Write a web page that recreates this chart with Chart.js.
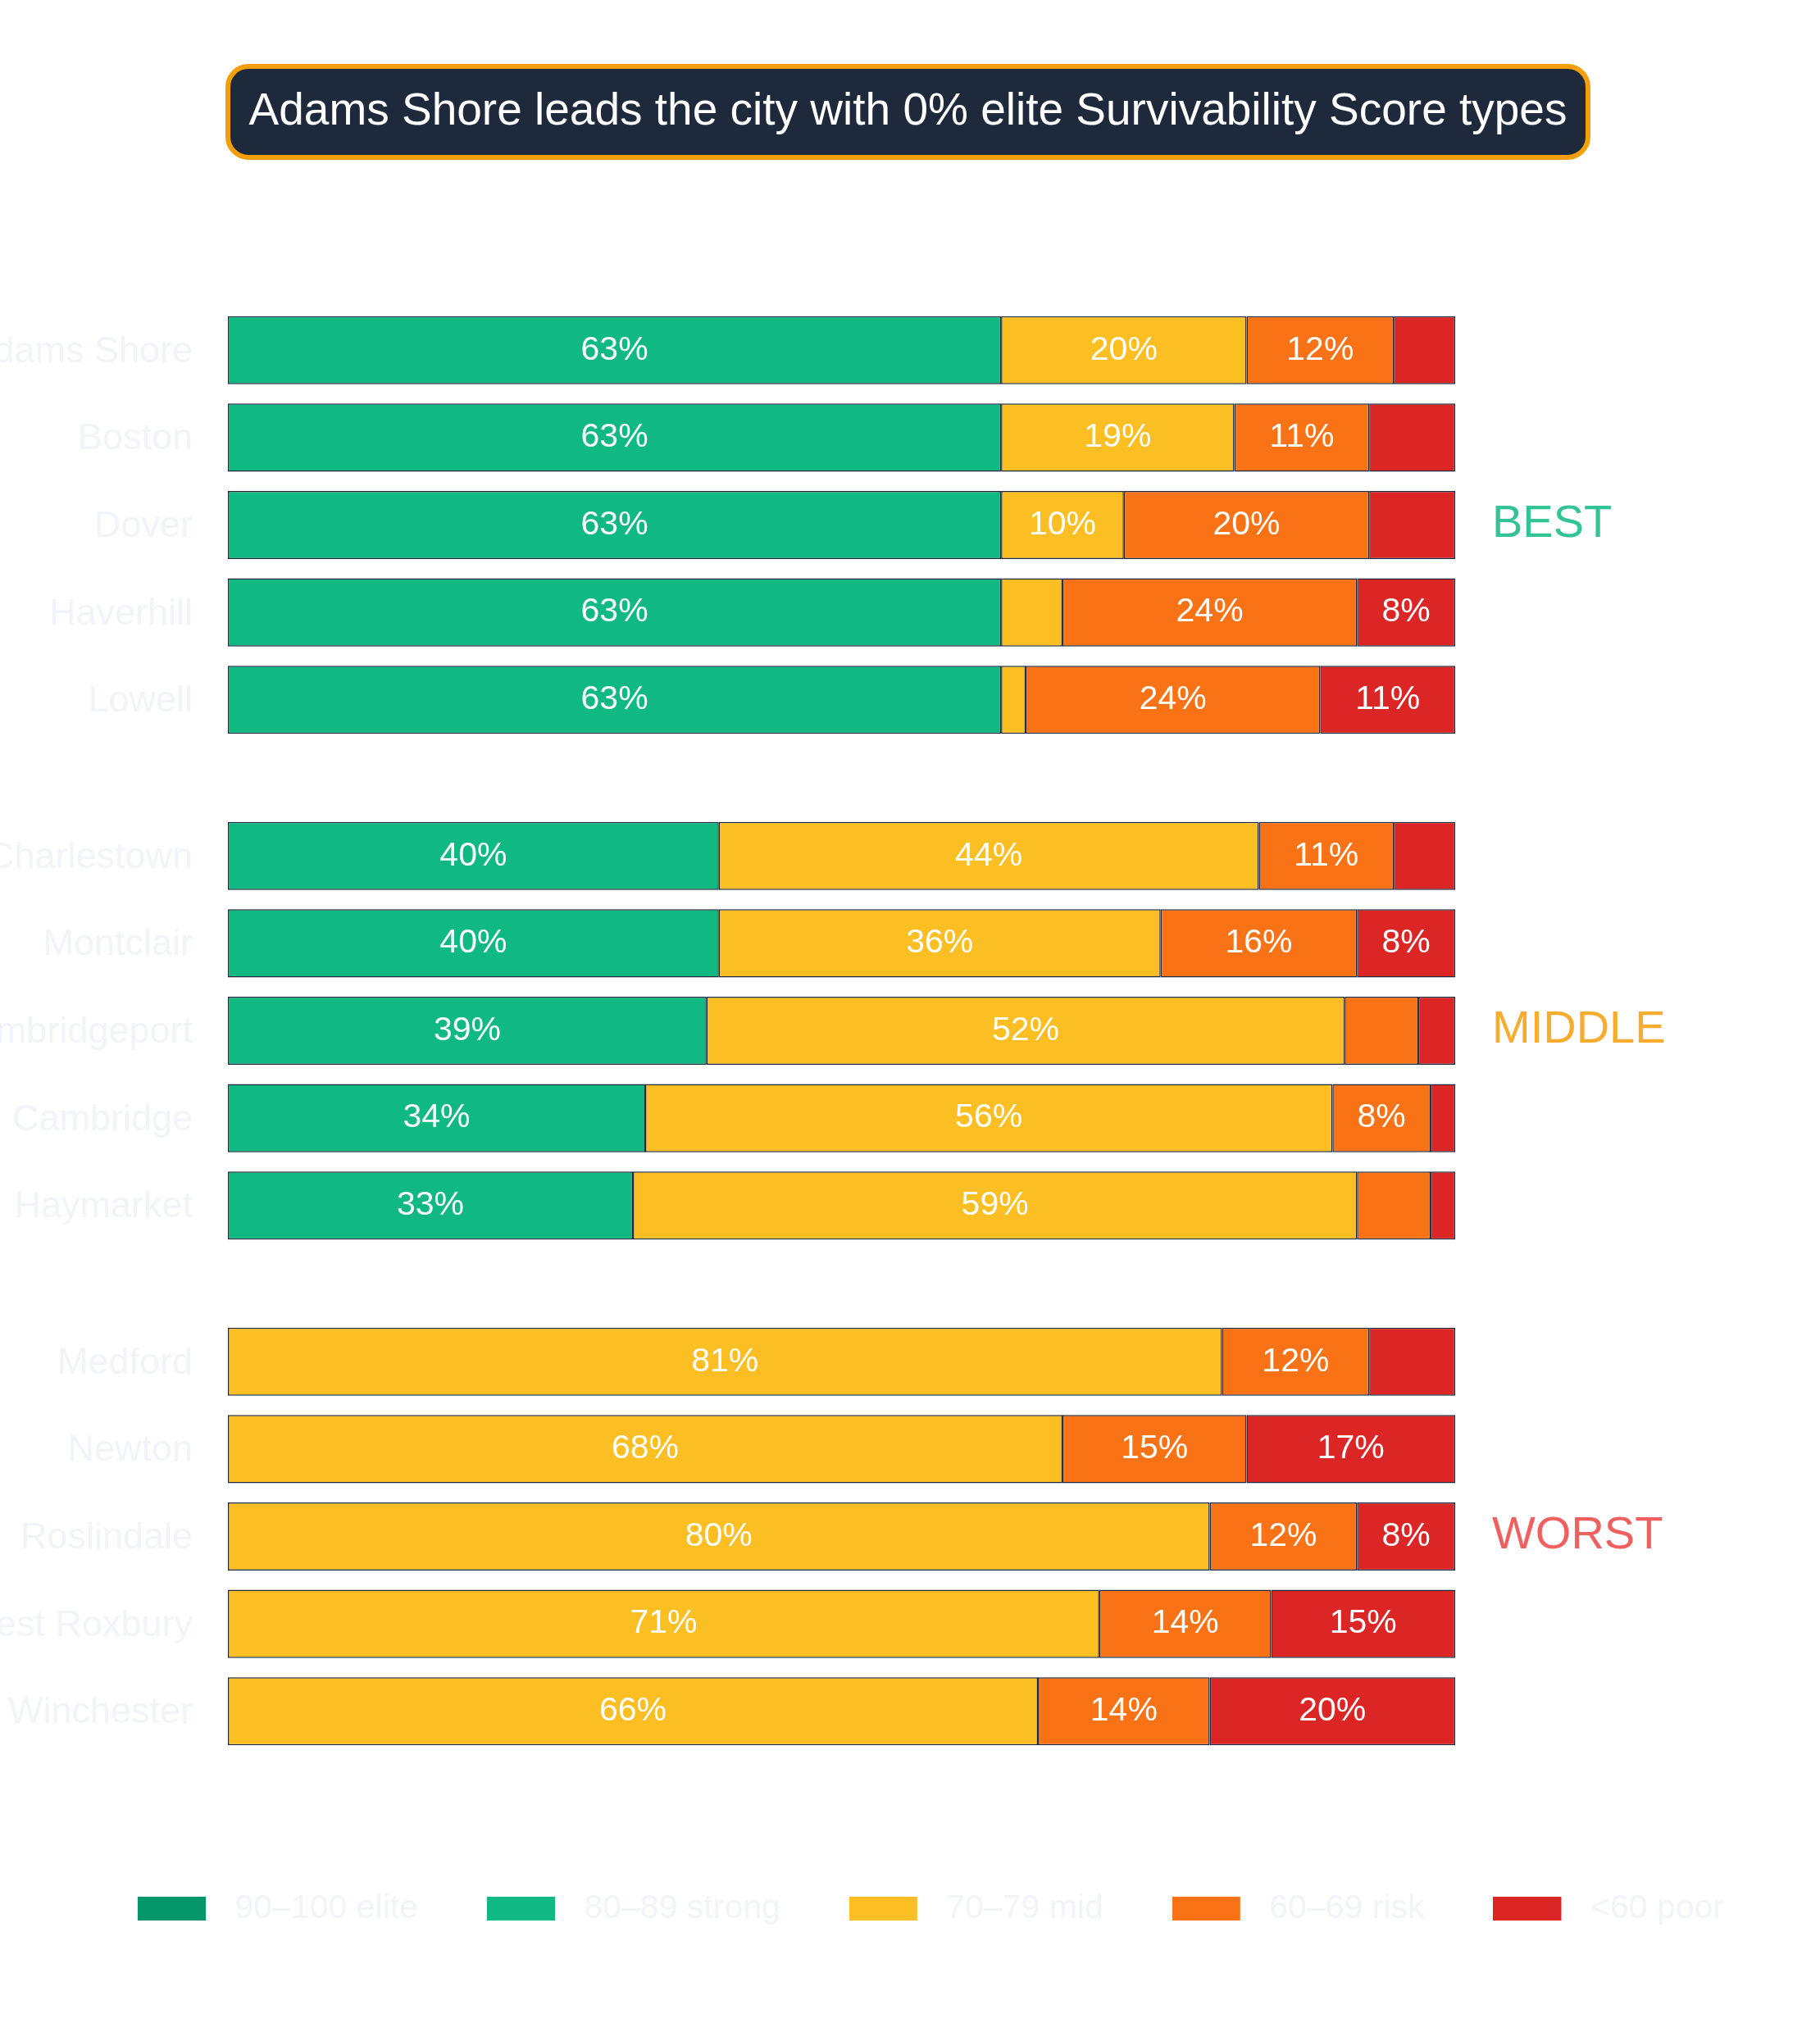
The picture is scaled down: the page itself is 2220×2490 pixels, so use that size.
<!DOCTYPE html>
<html>
<head>
<meta charset="utf-8">
<script src="https://cdn.jsdelivr.net/npm/chart.js@4.4.1/dist/chart.umd.min.js"></script>
<style>
html,body{margin:0;padding:0;background:#ffffff;}
body{width:2220px;height:2490px;position:relative;overflow:hidden;font-family:"Liberation Sans",Arial,Helvetica,sans-serif;}
#title{position:absolute;left:275px;top:78px;width:1665px;height:117px;box-sizing:border-box;border:6px solid #f59e0b;border-radius:28px;background:#1e293b;color:#ffffff;font-size:55px;display:flex;align-items:center;justify-content:center;white-space:nowrap;padding-bottom:7px;}
.wrap{position:absolute;left:0;width:2220px;}
</style>
</head>
<body>
<div id="title">Adams Shore leads the city with 0% elite Survivability Score types</div>
<div class="wrap" style="top:374px;height:533px"><canvas id="c1"></canvas></div>
<div class="wrap" style="top:991px;height:533px"><canvas id="c2"></canvas></div>
<div class="wrap" style="top:1608px;height:751px"><canvas id="c3"></canvas></div>
<script>
// ---- data ----
const seriesLabels = ['90–100 elite', '80–89 strong', '70–79 mid', '60–69 risk', '<60 poor'];
const seriesColors = ['#059669', '#10b981', '#fbbf24', '#f97316', '#dc2626'];
const groupNames = ['BEST', 'MIDDLE', 'WORST'];

const bestCities = ['Adams Shore', 'Boston', 'Dover', 'Haverhill', 'Lowell'];
const bestElite  = [0, 0, 0, 0, 0];
const bestStrong = [63, 63, 63, 63, 63];
const bestMid    = [20, 19, 10, 5, 2];
const bestRisk   = [12, 11, 20, 24, 24];
const bestPoor   = [5, 7, 7, 8, 11];

const middleCities = ['Charlestown', 'Montclair', 'Cambridgeport', 'Cambridge', 'Haymarket'];
const middleElite  = [0, 0, 0, 0, 0];
const middleStrong = [40, 40, 39, 34, 33];
const middleMid    = [44, 36, 52, 56, 59];
const middleRisk   = [11, 16, 6, 8, 6];
const middlePoor   = [5, 8, 3, 2, 2];

const worstCities = ['Medford', 'Newton', 'Roslindale', 'West Roxbury', 'Winchester'];
const worstElite  = [0, 0, 0, 0, 0];
const worstStrong = [0, 0, 0, 0, 0];
const worstMid    = [81, 68, 80, 71, 66];
const worstRisk   = [12, 15, 12, 14, 14];
const worstPoor   = [7, 17, 8, 15, 20];

// ---- styling / helpers ----
const FONT = '"Liberation Sans", Arial, Helvetica, sans-serif';
Chart.defaults.font.family = FONT;
const groupColors = ['rgba(16,185,129,0.85)', 'rgba(245,158,11,0.85)', 'rgba(239,68,68,0.85)'];
const faintText = '#f1f5f9';

// legend swatch: coloured block followed by a transparent gap before the text
function swatch(color) {
  const c = document.createElement('canvas');
  c.width = 98; c.height = 29;
  const g = c.getContext('2d');
  g.fillStyle = color;
  g.fillRect(0, 0, 83, 29);
  return c;
}

const valueLabels = {
  id: 'valueLabels',
  afterDatasetsDraw(chart) {
    const ctx = chart.ctx;
    ctx.save();
    ctx.font = '41px ' + FONT;
    ctx.fillStyle = '#ffffff';
    ctx.textAlign = 'center';
    ctx.textBaseline = 'middle';
    chart.data.datasets.forEach((ds, i) => {
      const meta = chart.getDatasetMeta(i);
      meta.data.forEach((bar, j) => {
        const v = ds.data[j];
        if (v >= 8) ctx.fillText(v + '%', (bar.x + bar.base) / 2, bar.y);
      });
    });
    ctx.restore();
  }
};

const groupLabel = {
  id: 'groupLabel',
  afterDraw(chart, args, opts) {
    const {ctx, chartArea} = chart;
    ctx.save();
    ctx.font = '56px ' + FONT;
    ctx.fillStyle = opts.color;
    ctx.textAlign = 'left';
    ctx.textBaseline = 'middle';
    ctx.fillText(opts.text, chartArea.right + 45, (chartArea.top + chartArea.bottom) / 2 - 1);
    ctx.restore();
  }
};

function zeroPad(s) { s.paddingTop = 0; s.paddingBottom = 0; s.paddingLeft = 0; s.paddingRight = 0; }

function makeChart(id, cities, series, gi, withLegend) {
  const datasets = series.map((vals, i) => ({
    label: seriesLabels[i],
    data: vals,
    backgroundColor: seriesColors[i],
    borderColor: '#1e293b',
    borderWidth: 1.5,
    borderSkipped: false,
    barPercentage: 0.78,
    categoryPercentage: 1.0
  }));
  const rightPad = withLegend ? -51 : 0;
  return new Chart(document.getElementById(id), {
    type: 'bar',
    data: { labels: cities, datasets },
    options: {
      indexAxis: 'y',
      responsive: true,
      maintainAspectRatio: false,
      animation: false,
      layout: { padding: { left: 0, right: rightPad, top: 0, bottom: 0 } },
      scales: {
        x: {
          stacked: true, min: 0, max: 100,
          display: withLegend,
          ticks: { display: false },
          grid: { display: false, drawTicks: false },
          border: { display: false },
          afterFit: s => { zeroPad(s); if (withLegend) s.height = 83; }
        },
        y: {
          stacked: true,
          position: 'left',
          ticks: { color: faintText, font: { size: 45, family: FONT }, padding: 43, labelOffset: 2 },
          grid: { display: false, drawTicks: false },
          border: { display: false },
          afterFit: s => { zeroPad(s); s.width = 278; }
        },
        y2: {
          type: 'category',
          labels: cities,
          position: 'right',
          ticks: { display: false },
          grid: { display: false, drawTicks: false },
          border: { display: false },
          afterFit: s => { zeroPad(s); s.width = 445 - rightPad; }
        }
      },
      plugins: {
        tooltip: { enabled: false },
        legend: {
          display: withLegend,
          position: 'bottom',
          labels: {
            usePointStyle: true,
            pointStyleWidth: 98,
            boxHeight: 29,
            padding: 84,
            color: faintText,
            font: { size: 41, family: FONT },
            generateLabels: () => seriesLabels.map((t, i) => ({
              text: t, fillStyle: seriesColors[i], strokeStyle: seriesColors[i],
              pointStyle: swatch(seriesColors[i]),
              lineWidth: 0, hidden: false, datasetIndex: i, fontColor: faintText
            }))
          }
        },
        groupLabel: { text: groupNames[gi], color: groupColors[gi] }
      }
    },
    plugins: [valueLabels, groupLabel]
  });
}

makeChart('c1', bestCities, [bestElite, bestStrong, bestMid, bestRisk, bestPoor], 0, false);
makeChart('c2', middleCities, [middleElite, middleStrong, middleMid, middleRisk, middlePoor], 1, false);
makeChart('c3', worstCities, [worstElite, worstStrong, worstMid, worstRisk, worstPoor], 2, true);
</script>
</body>
</html>
